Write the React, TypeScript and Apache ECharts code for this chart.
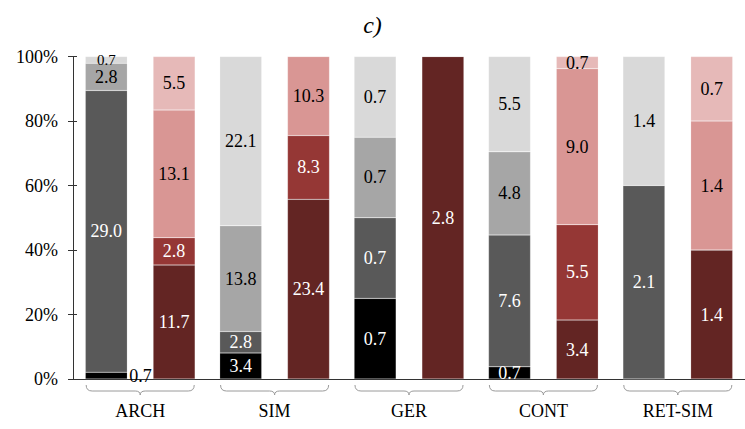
import React, { useEffect, useRef } from "react";
import * as echarts from "echarts";

const CATEGORIES = ["ARCH", "SIM", "GER", "CONT", "RET-SIM"];
const Y_TICKS = [0, 20, 40, 60, 80, 100];

// gray stack (bottom to top)
const GRAY_BLACK = [0.7, 3.4, 0.7, 0.7, 0];
const GRAY_DARK = [29.0, 2.8, 0.7, 7.6, 2.1];
const GRAY_MID = [2.8, 13.8, 0.7, 4.8, 0];
const GRAY_LIGHT = [0.7, 22.1, 0.7, 5.5, 1.4];

// red stack (bottom to top)
const RED_DARK = [11.7, 23.4, 2.8, 3.4, 1.4];
const RED_MID = [2.8, 8.3, 0, 5.5, 0];
const RED_PINK = [13.1, 10.3, 0, 9.0, 1.4];
const RED_LIGHT = [5.5, 0, 0, 0.7, 0.7];

const FONT = "Liberation Serif";

export default function App() {
  const ref = useRef<HTMLDivElement>(null);
  useEffect(() => {
    if (!ref.current) return;
    const chart = echarts.init(ref.current, undefined, { renderer: "svg" });

    const grayStack = [GRAY_BLACK, GRAY_DARK, GRAY_MID, GRAY_LIGHT];
    const redStack = [RED_DARK, RED_MID, RED_PINK, RED_LIGHT];
    const grayTotals = CATEGORIES.map((_, i) => grayStack.reduce((s, a) => s + a[i], 0));
    const redTotals = CATEGORIES.map((_, i) => redStack.reduce((s, a) => s + a[i], 0));

    const mk = (
      name: string,
      raw: number[],
      totals: number[],
      stack: string,
      color: string,
      labelColor: string,
      special?: (i: number) => any
    ) => ({
      type: "bar",
      name,
      stack,
      barWidth: 42,
      barGap: "61.4%",
      itemStyle: { color, borderColor: "rgba(255,255,255,0.35)", borderWidth: 0.5 },
      label: {
        show: true,
        position: "inside",
        color: labelColor,
        fontFamily: FONT,
        fontSize: 18,
        lineHeight: 14,
        formatter: (p: any) => (raw[p.dataIndex] > 0 ? raw[p.dataIndex].toFixed(1) : ""),
      },
      labelLayout: { hideOverlap: false },
      data: raw.map((v, i) => {
        const item: any = { value: totals[i] > 0 ? (v / totals[i]) * 100 : 0 };
        if (special) {
          const l = special(i);
          if (l) item.label = l;
        }
        return item;
      }),
      z: 2,
    });

    const series: any[] = [
      mk("gray-black", GRAY_BLACK, grayTotals, "g", "#000000", "#ffffff", (i) =>
        i === 0 ? { position: "right", color: "#000000", distance: 2, offset: [0, -6] } : null
      ),
      mk("gray-dark", GRAY_DARK, grayTotals, "g", "#595959", "#ffffff"),
      mk("gray-mid", GRAY_MID, grayTotals, "g", "#A6A6A6", "#000000", (i) =>
        i === 0 ? { offset: [0, 1] } : null
      ),
      mk("gray-light", GRAY_LIGHT, grayTotals, "g", "#D9D9D9", "#000000", (i) =>
        i === 0 ? { offset: [0, -2], fontSize: 15, lineHeight: 12 } : null
      ),
      mk("red-dark", RED_DARK, redTotals, "r", "#632523", "#ffffff"),
      mk("red-mid", RED_MID, redTotals, "r", "#953735", "#ffffff"),
      mk("red-pink", RED_PINK, redTotals, "r", "#D99694", "#000000"),
      mk("red-light", RED_LIGHT, redTotals, "r", "#E6B9B8", "#000000"),
      {
        type: "custom",
        name: "braces",
        clip: false,
        silent: true,
        data: CATEGORIES.map((_, i) => [i, 0]),
        renderItem: (params: any, api: any) => {
          const p = api.coord([api.value(0), 0]);
          const bw = api.size([1, 0])[0];
          const cx = p[0];
          const y = p[1];
          const hw = bw * 0.402;
          const l = cx - hw;
          const r = cx + hw;
          const y1 = y + 6;
          const y2 = y + 12;
          const y3 = y + 16;
          const d =
            `M${l},${y1} Q${l},${y2} ${l + 6},${y2} L${cx - 5},${y2} Q${cx},${y2} ${cx},${y3} ` +
            `Q${cx},${y2} ${cx + 5},${y2} L${r - 6},${y2} Q${r},${y2} ${r},${y1}`;
          return {
            type: "path",
            shape: { pathData: d },
            style: { fill: "none", stroke: "#9a9a9a", lineWidth: 1 },
          };
        },
        z: 3,
      },
    ];

    chart.setOption({
      animation: false,
      title: {
        text: "c)",
        left: "center",
        top: 8,
        textStyle: { fontFamily: FONT, fontStyle: "italic", fontWeight: "normal", fontSize: 24, color: "#000" },
      },
      grid: { left: 73, top: 56.5, height: 322.5, width: 678 },
      xAxis: {
        type: "category",
        data: CATEGORIES,
        axisLine: { lineStyle: { color: "#333", width: 1 } },
        axisTick: { show: false },
        axisLabel: { margin: 23, fontFamily: FONT, fontSize: 18, color: "#000" },
      },
      yAxis: [
        {
          type: "value",
          min: Y_TICKS[0],
          max: Y_TICKS[Y_TICKS.length - 1],
          interval: 20,
          axisLine: { show: true, lineStyle: { color: "#333", width: 1 } },
          axisTick: { show: true, length: 5, lineStyle: { color: "#333" } },
          splitLine: { show: false },
          axisLabel: { margin: 15, formatter: "{value}%", fontFamily: FONT, fontSize: 18, color: "#000" },
        },
        {
          type: "value",
          position: "left",
          min: Y_TICKS[0],
          max: Y_TICKS[Y_TICKS.length - 1],
          interval: 20,
          axisLine: { show: false },
          axisTick: { show: true, inside: true, length: 4, lineStyle: { color: "#333" } },
          axisLabel: { show: false },
          splitLine: { show: false },
        },
      ],
      series,
    });
    return () => chart.dispose();
  }, []);
  return (
    <div
      ref={ref}
      style={{ position: "fixed", left: 0, top: 0, width: 745, height: 429, background: "#fff" }}
    />
  );
}
